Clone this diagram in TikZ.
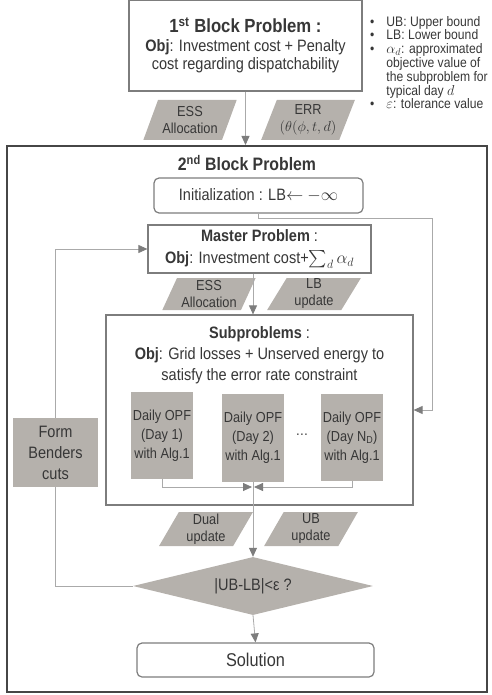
\documentclass[tikz,border=0pt]{standalone}
\usepackage{fontspec}
\setmainfont{Liberation Sans}[FakeStretch=0.88]
\usepackage{amsmath}
\usetikzlibrary{shapes.geometric, arrows.meta, positioning, calc}
\definecolor{boxfill}{RGB}{181, 177, 172}
\definecolor{edgegray}{RGB}{125, 125, 125}
\definecolor{linegray}{RGB}{170, 170, 170}
\definecolor{tipgray}{RGB}{125, 125, 125}
\definecolor{textgray}{RGB}{55, 55, 55}
\definecolor{framegray}{RGB}{70, 70, 70}

\begin{document}
\begin{tikzpicture}[
        x=1pt, y=-1pt,
        every node/.style={text=textgray},
        plainbox/.style={
            rectangle,
            draw=edgegray,
            line width=1.2pt,
            fill=white,
            align=center,
            inner sep=0pt,
            font=\fontsize{16.5}{18.5}\selectfont
        },
        roundbox/.style={
            plainbox,
            rounded corners=5pt
        },
        graybox/.style={
            rectangle,
            fill=boxfill,
            align=center,
            inner sep=0pt,
            font=\fontsize{14.5}{19}\selectfont
        },
        databox/.style={
            trapezium,
            trapezium left angle=65,
            trapezium right angle=115,
            trapezium stretches=true,
            fill=boxfill,
            align=center,
            inner sep=0pt,
            minimum width=94pt,
            minimum height=34pt,
            font=\fontsize{14.5}{17}\selectfont
        },
        decision/.style={
            diamond,
            fill=boxfill,
            aspect=4,
            inner sep=0pt,
            minimum width=240pt,
            minimum height=58pt,
            font=\fontsize{16.5}{18}\selectfont
        },
        flow/.style={
            draw=linegray,
            line width=0.8pt,
            -{Triangle[width=8pt, length=9pt, color=tipgray]}
        },
        link/.style={
            draw=linegray,
            line width=0.8pt
        }
    ]
        \useasboundingbox (0, 0) rectangle (491, 695);

        % first block and notes
        \node[plainbox, minimum width=233pt, minimum height=91pt] (block1) at (245.5, 45.5)
            {{\fontsize{19}{20}\selectfont\bfseries 1\textsuperscript{st} Block Problem :}\\
             \textbf{Obj}: Investment cost + Penalty\\
             cost regarding dispatchability};
        \node[anchor=north west, inner sep=0pt, font=\fontsize{13.8}{12.6}\selectfont] (notes) at (370, 16)
            {\begin{tabular}{@{}l@{\hspace{12pt}}l@{}}
             \textbullet & UB: Upper bound\\
             \textbullet & LB: Lower bound\\
             \textbullet & $\alpha_d$: approximated\\
                         & objective value of\\
                         & the subproblem for\\
                         & typical day $d$\\
             \textbullet & $\varepsilon$: tolerance value
             \end{tabular}};
        \node[databox, minimum height=40pt] (ess1) at (190, 120) {ESS\\Allocation};
        \node[databox, minimum height=40pt] (err1) at (308, 120) {ERR\\$(\theta(\phi,t,d)$};

        % second block
        \node[rectangle, draw=framegray, line width=2pt, minimum width=480pt, minimum height=546pt] (block2) at (247, 419) {};
        \node[font=\fontsize{18}{20}\selectfont\bfseries] (title2) at (247, 163) {2\textsuperscript{nd} Block Problem};
        \node[roundbox, minimum width=209pt, minimum height=35pt] (init) at (258.5, 195.5) {Initialization : LB$\leftarrow$ $-\infty$};
        \node[plainbox, minimum width=223pt, minimum height=48pt, font=\fontsize{16.5}{22.5}\selectfont] (master) at (259.5, 249)
            {\textbf{Master Problem} :\\ \textbf{Obj}: Investment cost+$\sum_d \alpha_d$};
        \node[databox, minimum height=32pt] (ess2) at (209, 294) {ESS\\Allocation};
        \node[databox, minimum height=32pt] (lb2) at (314, 294) {LB\\update};

        \node[plainbox, minimum width=307pt, minimum height=190pt] (sub) at (259.5, 410) {};
        \node[anchor=north, align=center, inner sep=0pt, font=\fontsize{16.5}{21}\selectfont] (subtext) at ($(sub.north) + (0, 12)$)
            {\textbf{Subproblems} :\\ \textbf{Obj}: Grid losses + Unserved energy to\\ satisfy the error rate constraint};
        \node[graybox, minimum width=62pt, minimum height=87pt] (opf1) at (162, 435.5) {Daily OPF\\(Day 1)\\with Alg.1};
        \node[graybox, minimum width=62pt, minimum height=88pt] (opf2) at (253, 438) {Daily OPF\\(Day 2)\\with Alg.1};
        \node[graybox, minimum width=62pt, minimum height=87pt] (opf3) at (352, 437.5) {Daily OPF\\(Day N\textsubscript{D})\\with Alg.1};
        \node[font=\fontsize{14.5}{17}\selectfont] (dots) at (302, 435) {\dots};
        \coordinate (merge) at (253, 487);

        \node[graybox, minimum width=85pt, minimum height=69pt, font=\fontsize{16.5}{21}\selectfont] (benders) at (55.5, 452.5) {Form\\Benders\\cuts};
        \node[databox] (dual) at (206, 529) {Dual\\update};
        \node[databox] (ub) at (311, 529) {UB\\update};
        \node[decision] (check) at (253, 586) {|UB-LB|<ε ?};
        \node[roundbox, minimum width=237pt, minimum height=34pt, font=\fontsize{18.5}{20}\selectfont] (solution) at (255.5, 660) {Solution};
        \coordinate (initturn) at (432, 218);

        \draw[flow] (block1.south) -- (block1.south |- block2.north);
        \draw[flow] (init.south) |- (initturn) |- (sub.east);
        \draw[flow] (master.south -| merge) -- (merge |- sub.north);
        \draw[flow] (opf1.south) |- ([xshift=-1pt]merge);
        \draw[flow] (opf3.south) |- ([xshift=1pt]merge);
        \draw[flow] (opf2.south) -- (check.north);
        \draw[link] (check.west) -| (benders.south);
        \draw[flow] (benders.north) |- (master.west);
        \draw[flow] (check.south) -- (solution.north);
    \end{tikzpicture}
\end{document}
